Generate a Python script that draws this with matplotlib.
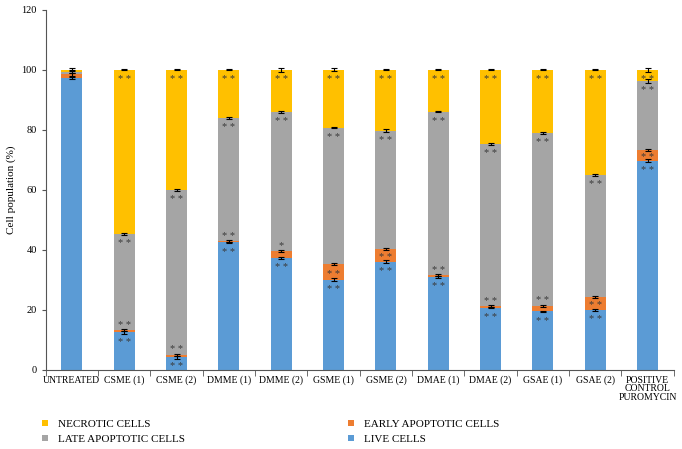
import matplotlib.pyplot as plt
import numpy as np

plt.rcParams['font.family'] = ['Liberation Serif', 'DejaVu Serif']

categories = ['UNTREATED', 'CSME (1)', 'CSME (2)', 'DMME (1)', 'DMME (2)', 'GSME (1)',
              'GSME (2)', 'DMAE (1)', 'DMAE (2)', 'GSAE (1)', 'GSAE (2)',
              'POSITIVE\nCONTROL\nPUROMYCIN']

# Zellpopulationen in %
live = [97.3, 12.5, 4.3, 42.5, 37.2, 30.0, 36.1, 31.1, 20.8, 19.5, 20.0, 69.7]
early = [1.2, 0.8, 0.8, 0.5, 2.5, 5.4, 4.3, 0.5, 0.5, 1.9, 4.3, 3.6]
late = [0.9, 32.0, 54.9, 41.0, 46.2, 45.4, 39.4, 54.5, 54.1, 57.5, 40.7, 23.0]
necrotic = [round(100 - a - b - c, 1) for a, b, c in zip(live, early, late)]

err_live = [0.4, 0.5, 0.5, 0.3, 0.3, 0.5, 0.6, 0.3, 0.3, 0.3, 0.3, 0.5]
err_early = [0.4, 0.3, 0.3, 0.2, 0.3, 0.3, 0.3, 0.3, 0.3, 0.3, 0.4, 0.4]
err_late = [0.4, 0.4, 0.2, 0.2, 0.4, 0.3, 0.6, 0.2, 0.4, 0.4, 0.3, 0.7]
err_nec = [0.5, 0.2, 0.2, 0.2, 0.6, 0.5, 0.2, 0.2, 0.2, 0.2, 0.2, 0.6]

sig_live = ['', '* *', '* *', '* *', '* *', '* *', '* *', '* *', '* *', '* *', '* *', '* *']
sig_early = ['', '* *', '* *', '* *', '*', '* *', '* *', '* *', '* *', '* *', '* *', '* *']
sig_late = ['', '* *', '* *', '* *', '* *', '* *', '* *', '* *', '* *', '* *', '* *', '* *']
sig_nec = ['', '* *', '* *', '* *', '* *', '* *', '* *', '* *', '* *', '* *', '* *', '* *']

c_live, c_early, c_late, c_nec = '#5B9BD5', '#ED7D31', '#A5A5A5', '#FFC000'

fig = plt.figure(figsize=(6.82, 4.49), dpi=100)
ax = fig.add_axes([0.067, 0.176, 0.921, 0.802])

x = np.arange(len(categories))
w = 0.4
live = np.array(live); early = np.array(early); late = np.array(late); necrotic = np.array(necrotic)
b1 = live
b2 = b1 + early
b3 = b2 + late

h_live = ax.bar(x, live, w, color=c_live, label='LIVE CELLS')
h_early = ax.bar(x, early, w, bottom=b1, color=c_early, label='EARLY APOPTOTIC CELLS')
h_late = ax.bar(x, late, w, bottom=b2, color=c_late, label='LATE APOPTOTIC CELLS')
h_nec = ax.bar(x, necrotic, w, bottom=b3, color=c_nec, label='NECROTIC CELLS')

ekw = dict(fmt='none', ecolor='black', elinewidth=0.8, capsize=2.5, capthick=0.8)
ax.errorbar(x, b1, yerr=err_live, **ekw)
ax.errorbar(x, b2, yerr=err_early, **ekw)
ax.errorbar(x, b3, yerr=err_late, **ekw)
ax.errorbar(x, b3 + necrotic, yerr=err_nec, **ekw)

tkw = dict(ha='center', va='center', fontsize=7.5, color='#3a3a3a')
for i in x:
    if sig_live[i]:
        ax.text(i, b1[i] - 3.2, sig_live[i], **tkw)
    if sig_early[i]:
        if early[i] > 3:
            ax.text(i, b1[i] + early[i] / 2 - 0.8, sig_early[i], **tkw)
        else:
            ax.text(i, b2[i] + 1.6, sig_early[i], **tkw)
    if sig_late[i]:
        ax.text(i, b3[i] - 3.2, sig_late[i], **tkw)
    if sig_nec[i]:
        ax.text(i, 100 - 3.2, sig_nec[i], **tkw)

ax.set_xlim(-0.5, len(categories) - 0.5)
ax.set_ylim(0, 120)
ax.set_yticks(range(0, 121, 20))
ax.set_xticks(x)
ax.set_xticklabels(categories, fontsize=7, linespacing=0.95)
ax.set_xticks(np.arange(-0.5, len(categories), 1), minor=True)
ax.tick_params(axis='x', which='major', length=0, pad=4)
ax.tick_params(axis='x', which='minor', length=4, color='#555555')
ax.tick_params(axis='y', labelsize=7.5, length=3, color='#555555')
ax.set_ylabel('Cell population (%)', fontsize=8)
for s in ['top', 'right']:
    ax.spines[s].set_visible(False)
ax.spines['left'].set_color('#555555')
ax.spines['bottom'].set_color('#555555')

fig.legend([h_nec, h_late, h_early, h_live],
           ['NECROTIC CELLS', 'LATE APOPTOTIC CELLS', 'EARLY APOPTOTIC CELLS', 'LIVE CELLS'],
           ncol=2, loc='upper left', bbox_to_anchor=(0.062, 0.065), frameon=False,
           fontsize=8, handlelength=0.5, handleheight=0.5, columnspacing=14.7,
           labelspacing=0.55, handletextpad=0.9, borderaxespad=0, borderpad=0)

fig.savefig('out.png', dpi=100)
